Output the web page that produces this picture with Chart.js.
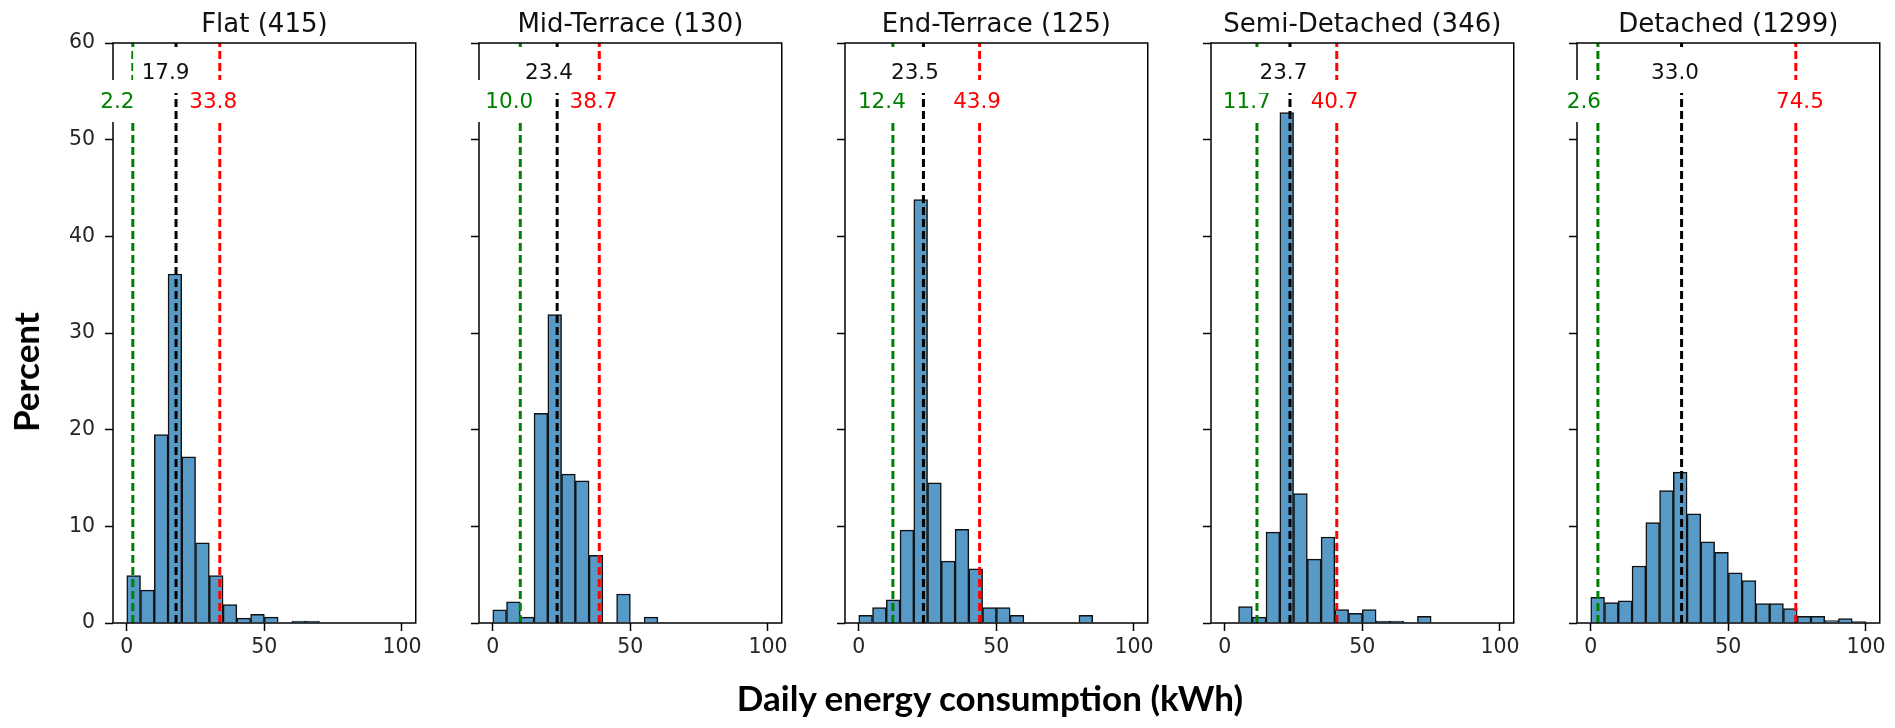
<!DOCTYPE html>
<html>
<head>
<meta charset="utf-8">
<script src="https://cdn.jsdelivr.net/npm/chart.js@4.4.1/dist/chart.umd.min.js"></script>
<style>
  html, body { margin: 0; padding: 0; background: #fff; overflow: hidden; }
  #wrap { position: relative; width: 1895px; height: 728px; }
  #wrap canvas { position: absolute; top: 0; }
  .axtitle { position: absolute; font-family: Lato, "Open Sans", sans-serif; font-weight: 700; color: #000; white-space: nowrap; }
  #ytitle { left: 25px; top: 372px; font-size: 35px; transform: translate(-50%, -50%) rotate(-90deg); }
  #xtitle { left: 990px; top: 697px; font-size: 35px; transform: translate(-50%, -50%); }
</style>
</head>
<body>
<div id="wrap">
  <canvas id="p0" width="383" height="680"></canvas>
  <canvas id="p1" width="383" height="680"></canvas>
  <canvas id="p2" width="383" height="680"></canvas>
  <canvas id="p3" width="383" height="680"></canvas>
  <canvas id="p4" width="383" height="680"></canvas>
  <div class="axtitle" id="ytitle">Percent</div>
  <div class="axtitle" id="xtitle">Daily energy consumption (kWh)</div>
</div>
<script>
"use strict";

// histogram bins (kWh), 5 kWh wide
var binStarts = [0, 5, 10, 15, 20, 25, 30, 35, 40, 45, 50, 55, 60, 65, 70, 75, 80, 85, 90, 95];
var binWidth = 5;

// percent of houses per bin
var flatPct       = [4.9, 3.4, 19.5, 36.1, 17.2, 8.3, 4.9, 1.9, 0.5, 0.9, 0.6, 0, 0.2, 0.2, 0, 0, 0, 0, 0, 0];
var midTerracePct = [1.35, 2.2, 0.6, 21.7, 31.9, 15.4, 14.7, 7.0, 0, 3.0, 0, 0.6, 0, 0, 0, 0, 0, 0, 0, 0];
var endTerracePct = [0.8, 1.6, 2.4, 9.6, 43.8, 14.5, 6.4, 9.7, 5.6, 1.6, 1.6, 0.8, 0, 0, 0, 0, 0.8, 0, 0, 0];
var semiPct       = [0, 1.7, 0.6, 9.4, 52.8, 13.4, 6.6, 8.9, 1.4, 1.0, 1.4, 0.2, 0.2, 0, 0.7, 0, 0, 0, 0, 0];
var detachedPct   = [2.65, 2.1, 2.3, 5.9, 10.4, 13.7, 15.6, 11.3, 8.4, 7.3, 5.2, 4.4, 2.0, 2.0, 1.5, 0.7, 0.7, 0.26, 0.45, 0.15];

var panelNames  = ['Flat', 'Mid-Terrace', 'End-Terrace', 'Semi-Detached', 'Detached'];
var panelCounts = [415, 130, 125, 346, 1299];
var panelPct    = [flatPct, midTerracePct, endTerracePct, semiPct, detachedPct];

// dashed reference lines (kWh)
var lowValues    = [2.2, 10.0, 12.4, 11.7, 2.6];
var medianValues = [17.9, 23.4, 23.5, 23.7, 33.0];
var highValues   = [33.8, 38.7, 43.9, 40.7, 74.5];

// where the value labels sit along x (kWh) - low, median, high
var labelPos = [
  [-3.4, 14.1, 31.4],
  [6.0, 20.4, 36.6],
  [8.4, 20.4, 43.0],
  [8.0, 21.3, 39.9],
  [-2.5, 30.6, 76.0]
];

var xTicks = [0, 50, 100];
var yTicks = [0, 10, 20, 30, 40, 50, 60];

var plotLeft0 = 113, plotStep = 366, yAxisW = 70;
var tickFont = { family: 'DejaVu Sans', size: 20.5 };

function vline(v, color) {
  return {
    type: 'line',
    data: [{ x: v, y: 0 }, { x: v, y: 60 }],
    borderColor: color,
    borderWidth: 3,
    borderDash: [8, 4],
    pointRadius: 0,
    order: 0
  };
}

var decorPlugin = {
  id: 'decor',
  afterDatasetsDraw: function (chart) {
    var ctx = chart.ctx, a = chart.chartArea;
    var xs = chart.scales.x, ys = chart.scales.y;
    var i = chart.options.plugins.decor.panel;
    ctx.save();
    // frame
    ctx.strokeStyle = '#000';
    ctx.lineWidth = 1.5;
    ctx.strokeRect(a.left, a.top, a.right - a.left, a.bottom - a.top);
    // value labels with white boxes
    ctx.font = '21.5px "DejaVu Sans"';
    ctx.textAlign = 'center';
    ctx.textBaseline = 'middle';
    var items = [
      [lowValues[i], labelPos[i][0], 54, 'green'],
      [medianValues[i], labelPos[i][1], 57, '#111'],
      [highValues[i], labelPos[i][2], 54, 'red']
    ];
    items.forEach(function (it) {
      var txt = it[0].toFixed(1);
      var px = xs.getPixelForValue(it[1]), py = ys.getPixelForValue(it[2]);
      var w = ctx.measureText(txt).width + 17;
      ctx.fillStyle = '#fff';
      ctx.fillRect(px - w / 2, py - 21, w, 42);
      ctx.fillStyle = it[3];
      ctx.fillText(txt, px, py + 1);
    });
    // panel title
    ctx.font = '26px "DejaVu Sans"';
    ctx.fillStyle = '#111';
    ctx.textBaseline = 'alphabetic';
    ctx.fillText(panelNames[i] + ' (' + panelCounts[i] + ')', (a.left + a.right) / 2, 32);
    ctx.restore();
  }
};

panelPct.forEach(function (pct, i) {
  var cv = document.getElementById('p' + i);
  cv.style.left = (plotLeft0 + plotStep * i - yAxisW) + 'px';

  new Chart(cv.getContext('2d'), {
    type: 'bar',
    data: {
      datasets: [
        vline(lowValues[i], 'green'),
        vline(medianValues[i], '#000'),
        vline(highValues[i], 'red'),
        {
          type: 'bar',
          data: binStarts.map(function (b, k) { return { x: b + binWidth / 2, y: pct[k] }; }),
          backgroundColor: '#5799c7',
          borderColor: '#111',
          borderWidth: 1.5,
          borderSkipped: 'start',
          barPercentage: 1,
          categoryPercentage: 1,
          order: 1
        }
      ]
    },
    options: {
      responsive: false,
      devicePixelRatio: 1,
      animation: false,
      layout: { padding: { left: 0, right: 10, top: 43, bottom: 0 } },
      plugins: {
        legend: { display: false },
        tooltip: { enabled: false },
        decor: { panel: i }
      },
      scales: {
        x: {
          type: 'linear',
          min: -5,
          max: 105,
          offset: false,
          afterBuildTicks: function (s) { s.ticks = xTicks.map(function (v) { return { value: v }; }); },
          afterFit: function (s) { s.height = 57; },
          border: { display: false },
          grid: { offset: false, drawOnChartArea: false, drawTicks: true, tickLength: 8, tickColor: '#000', tickWidth: 1.5 },
          ticks: { color: '#262626', font: tickFont, padding: 4, maxRotation: 0 }
        },
        y: {
          min: 0,
          max: 60,
          afterBuildTicks: function (s) { s.ticks = yTicks.map(function (v) { return { value: v }; }); },
          afterFit: function (s) { s.width = yAxisW; },
          border: { display: false },
          grid: { drawOnChartArea: false, drawTicks: true, tickLength: 8, tickColor: '#000', tickWidth: 1.5 },
          ticks: {
            color: '#262626',
            font: tickFont,
            padding: 10,
            callback: function (v) { return i === 0 ? v : ''; }
          }
        }
      }
    },
    plugins: [decorPlugin]
  });
});
</script>
</body>
</html>
